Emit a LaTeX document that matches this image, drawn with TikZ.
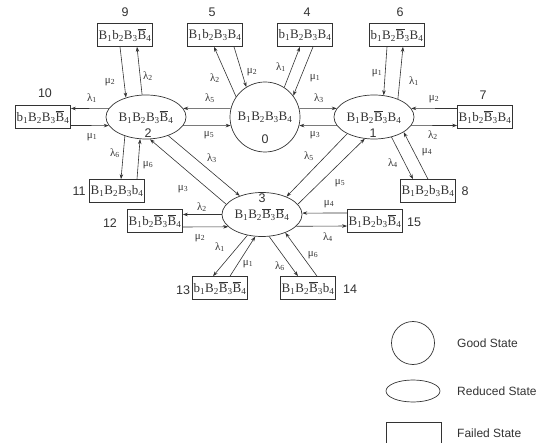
\documentclass[tikz,border=0pt]{standalone}
\usepackage{fontspec}
\setmainfont{Liberation Serif}
\newfontfamily\numfont{Liberation Sans}
\usetikzlibrary{shapes.geometric,arrows.meta}
\newcommand\Bs[1]{B\textsubscript{#1}}
\newcommand\bs[1]{b\textsubscript{#1}}
\newcommand\Bo[1]{$\overline{\mbox{B}}$\textsubscript{#1}}
\newcommand\glam[1]{λ\textsubscript{#1}}
\newcommand\gmu[1]{μ\textsubscript{#1}}
\definecolor{ink}{gray}{0.2}
\tikzset{
  every node/.style={text=ink},
  fstate/.style={draw=ink, line width=0.7pt, rectangle, minimum width=55pt, minimum height=23pt, inner sep=1pt, font=\fontsize{13}{15}\selectfont},
  rstate/.style={draw=ink, line width=0.7pt, ellipse, minimum width=80pt, minimum height=44pt, inner sep=0pt, font=\fontsize{13}{15}\selectfont},
  gstate/.style={draw=ink, line width=0.7pt, circle, minimum size=70pt, inner sep=0pt, font=\fontsize{13}{15}\selectfont},
  num/.style={font=\numfont\fontsize{12.5}{14}\selectfont, inner sep=0pt},
  rate/.style={font=\fontsize{11}{13}\selectfont, inner sep=0pt},
  tr/.style={draw=ink, line width=0.6pt, -{Stealth[length=5pt,width=3.5pt]}},
  legtext/.style={font=\numfont\fontsize{12}{14}\selectfont, anchor=west, inner sep=0pt}
}
\begin{document}
\begin{tikzpicture}[x=1pt,y=-1pt]
\useasboundingbox (0,0) rectangle (548,443);
% states
\node[gstate] (c0) at (265,117) {\Bs1\Bs2\Bs3\Bs4};
\node[rstate] (e2) at (146,117) {\Bs1\Bs2\Bs3\Bo4};
\node[rstate] (e1) at (374,117) {\Bs1\Bs2\Bo3\Bs4};
\node[rstate] (e3) at (262,214.5) {\Bs1\Bs2\Bo3\Bo4};
\node[num] (n0) at (265,139) {0};
\node[num] (n2) at (148,133) {2};
\node[num] (n1) at (373,133) {1};
\node[num] (n3) at (262,198) {3};
% failed states
\node[fstate] (b9) at (125,35) {\Bs1\bs2\Bs3\Bo4};
\node[fstate] (b5) at (215,35) {\Bs1\bs2\Bs3\Bs4};
\node[fstate] (b4) at (305,35) {\bs1\Bs2\Bs3\Bs4};
\node[fstate] (b6) at (397,35) {\bs1\Bs2\Bo3\Bs4};
\node[fstate] (b10) at (43,117) {\bs1\Bs2\Bs3\Bo4};
\node[fstate] (b7) at (485,117) {\Bs1\bs2\Bo3\Bs4};
\node[fstate] (b11) at (117,191) {\Bs1\Bs2\Bs3\bs4};
\node[fstate] (b8) at (428,191) {\Bs1\Bs2\bs3\Bs4};
\node[fstate] (b12) at (155,221) {\Bs1\bs2\Bo3\Bo4};
\node[fstate] (b15) at (375,221) {\Bs1\Bs2\bs3\Bo4};
\node[fstate] (b13) at (220,288) {\bs1\Bs2\Bo3\Bo4};
\node[fstate] (b14) at (308,288) {\Bs1\Bs2\Bo3\bs4};
% state numbers
\node[num] (l9) at (125,12) {9};
\node[num] (l5) at (212,12) {5};
\node[num] (l4) at (307,12) {4};
\node[num] (l6) at (400,12) {6};
\node[num] (l10) at (45,93) {10};
\node[num] (l7) at (483,95) {7};
\node[num] (l11) at (79,191) {11};
\node[num] (l8) at (465,191) {8};
\node[num] (l12) at (110,223) {12};
\node[num] (l15) at (414,222) {15};
\node[num] (l13) at (183,290) {13};
\node[num] (l14) at (350,289) {14};
% horizontal transitions row
\draw[tr] (c0.166) -- (e2.13);
\draw[tr] (e2.-13) -- (c0.194);
\draw[tr] (c0.14) -- (e1.167);
\draw[tr] (e1.193) -- (c0.-14);
\draw[tr] (e2.167) -- ([yshift=8.5pt]b10.east);
\draw[tr] ([yshift=-8.5pt]b10.east) -- (e2.193);
\draw[tr] ([yshift=8.5pt]b7.west) -- (e1.13);
\draw[tr] (e1.-13) -- ([yshift=-8.5pt]b7.west);
% top boxes
\draw[tr] ([xshift=-5pt]b9.south) -- (e2.136);
\draw[tr] (e2.100) -- ([xshift=12pt]b9.south);
\draw[tr] (c0.145) -- ([xshift=-1pt]b5.south);
\draw[tr] ([xshift=19pt]b5.south) -- (c0.122);
\draw[tr] (c0.57) -- ([xshift=-5pt]b4.south);
\draw[tr] ([xshift=8pt]b4.south) -- (c0.37);
\draw[tr] ([xshift=-10pt]b6.south) -- (e1.66);
\draw[tr] (e1.37) -- ([xshift=6pt]b6.south);
% lower boxes of e2 and e1
\draw[tr] (e2.222) -- ([xshift=4pt]b11.north);
\draw[tr] ([xshift=20pt]b11.north) -- (e2.255);
\draw[tr] (e1.311) -- ([xshift=-15pt]b8.north);
\draw[tr] (b8.north) -- (e1.333);
% diagonals to e3
\draw[tr] (e1.212) -- (e3.36);
\draw[tr] (e3.16) -- (e1.247);
\draw[tr] (e2.320) -- (e3.140);
\draw[tr] (e3.164) -- (e2.280);
% e3 boxes
\draw[tr] (e3.west) -- ([yshift=6.5pt]b12.east);
\draw[tr] ([yshift=-6pt]b12.east) -- (e3.200.8);
\draw[tr] ([yshift=8pt]b15.west) -- (e3.2);
\draw[tr] (e3.341.4) -- ([yshift=-5pt]b15.west);
\draw[tr] (e3.235) -- ([xshift=-7pt]b13.north);
\draw[tr] ([xshift=10pt]b13.north) -- (e3.253);
\draw[tr] (e3.288) -- ([xshift=-10pt]b14.north);
\draw[tr] ([xshift=9pt]b14.north) -- (e3.322);
% rate labels
\node[rate] (r1) at (110,82) {\gmu2};
\node[rate] (r2) at (148,76) {\glam2};
\node[rate] (r3) at (215,78) {\glam2};
\node[rate] (r4) at (252,72) {\gmu2};
\node[rate] (r5) at (281,67) {\glam1};
\node[rate] (r6) at (315,78) {\gmu1};
\node[rate] (r7) at (377,73) {\gmu1};
\node[rate] (r8) at (414,81) {\glam1};
\node[rate] (r9) at (92,98) {\glam1};
\node[rate] (r10) at (92,137) {\gmu1};
\node[rate] (r11) at (210,98) {\glam5};
\node[rate] (r12) at (209,135) {\gmu5};
\node[rate] (r13) at (319,98) {\glam3};
\node[rate] (r14) at (315,135) {\gmu3};
\node[rate] (r15) at (434,99) {\gmu2};
\node[rate] (r16) at (433,135) {\glam2};
\node[rate] (r17) at (115,153) {\glam6};
\node[rate] (r18) at (148,165) {\gmu6};
\node[rate] (r19) at (393,163) {\glam4};
\node[rate] (r20) at (427,152) {\gmu4};
\node[rate] (r21) at (212,158) {\glam3};
\node[rate] (r22) at (183,189) {\gmu3};
\node[rate] (r23) at (309,156) {\glam5};
\node[rate] (r24) at (340,183) {\gmu5};
\node[rate] (r25) at (202,207) {\glam2};
\node[rate] (r26) at (200,238) {\gmu2};
\node[rate] (r27) at (329,204) {\gmu4};
\node[rate] (r28) at (328,237) {\glam4};
\node[rate] (r29) at (220,247) {\glam1};
\node[rate] (r30) at (248,264) {\gmu1};
\node[rate] (r31) at (280,266) {\glam6};
\node[rate] (r32) at (313,255) {\gmu6};
% legend
\node[draw=ink, line width=0.7pt, circle, minimum size=43pt, inner sep=0pt] (gk) at (413,343) {};
\node[draw=ink, line width=0.7pt, ellipse, minimum width=54pt, minimum height=22pt, inner sep=0pt] (rk) at (413,391) {};
\node[draw=ink, line width=0.7pt, rectangle, minimum width=55pt, minimum height=23pt, inner sep=0pt] (fk) at (413.5,433.5) {};
\node[legtext] (gt) at (457,343) {Good State};
\node[legtext] (rt) at (457,391) {Reduced State};
\node[legtext] (ft) at (457,433) {Failed State};
\end{tikzpicture}
\end{document}
